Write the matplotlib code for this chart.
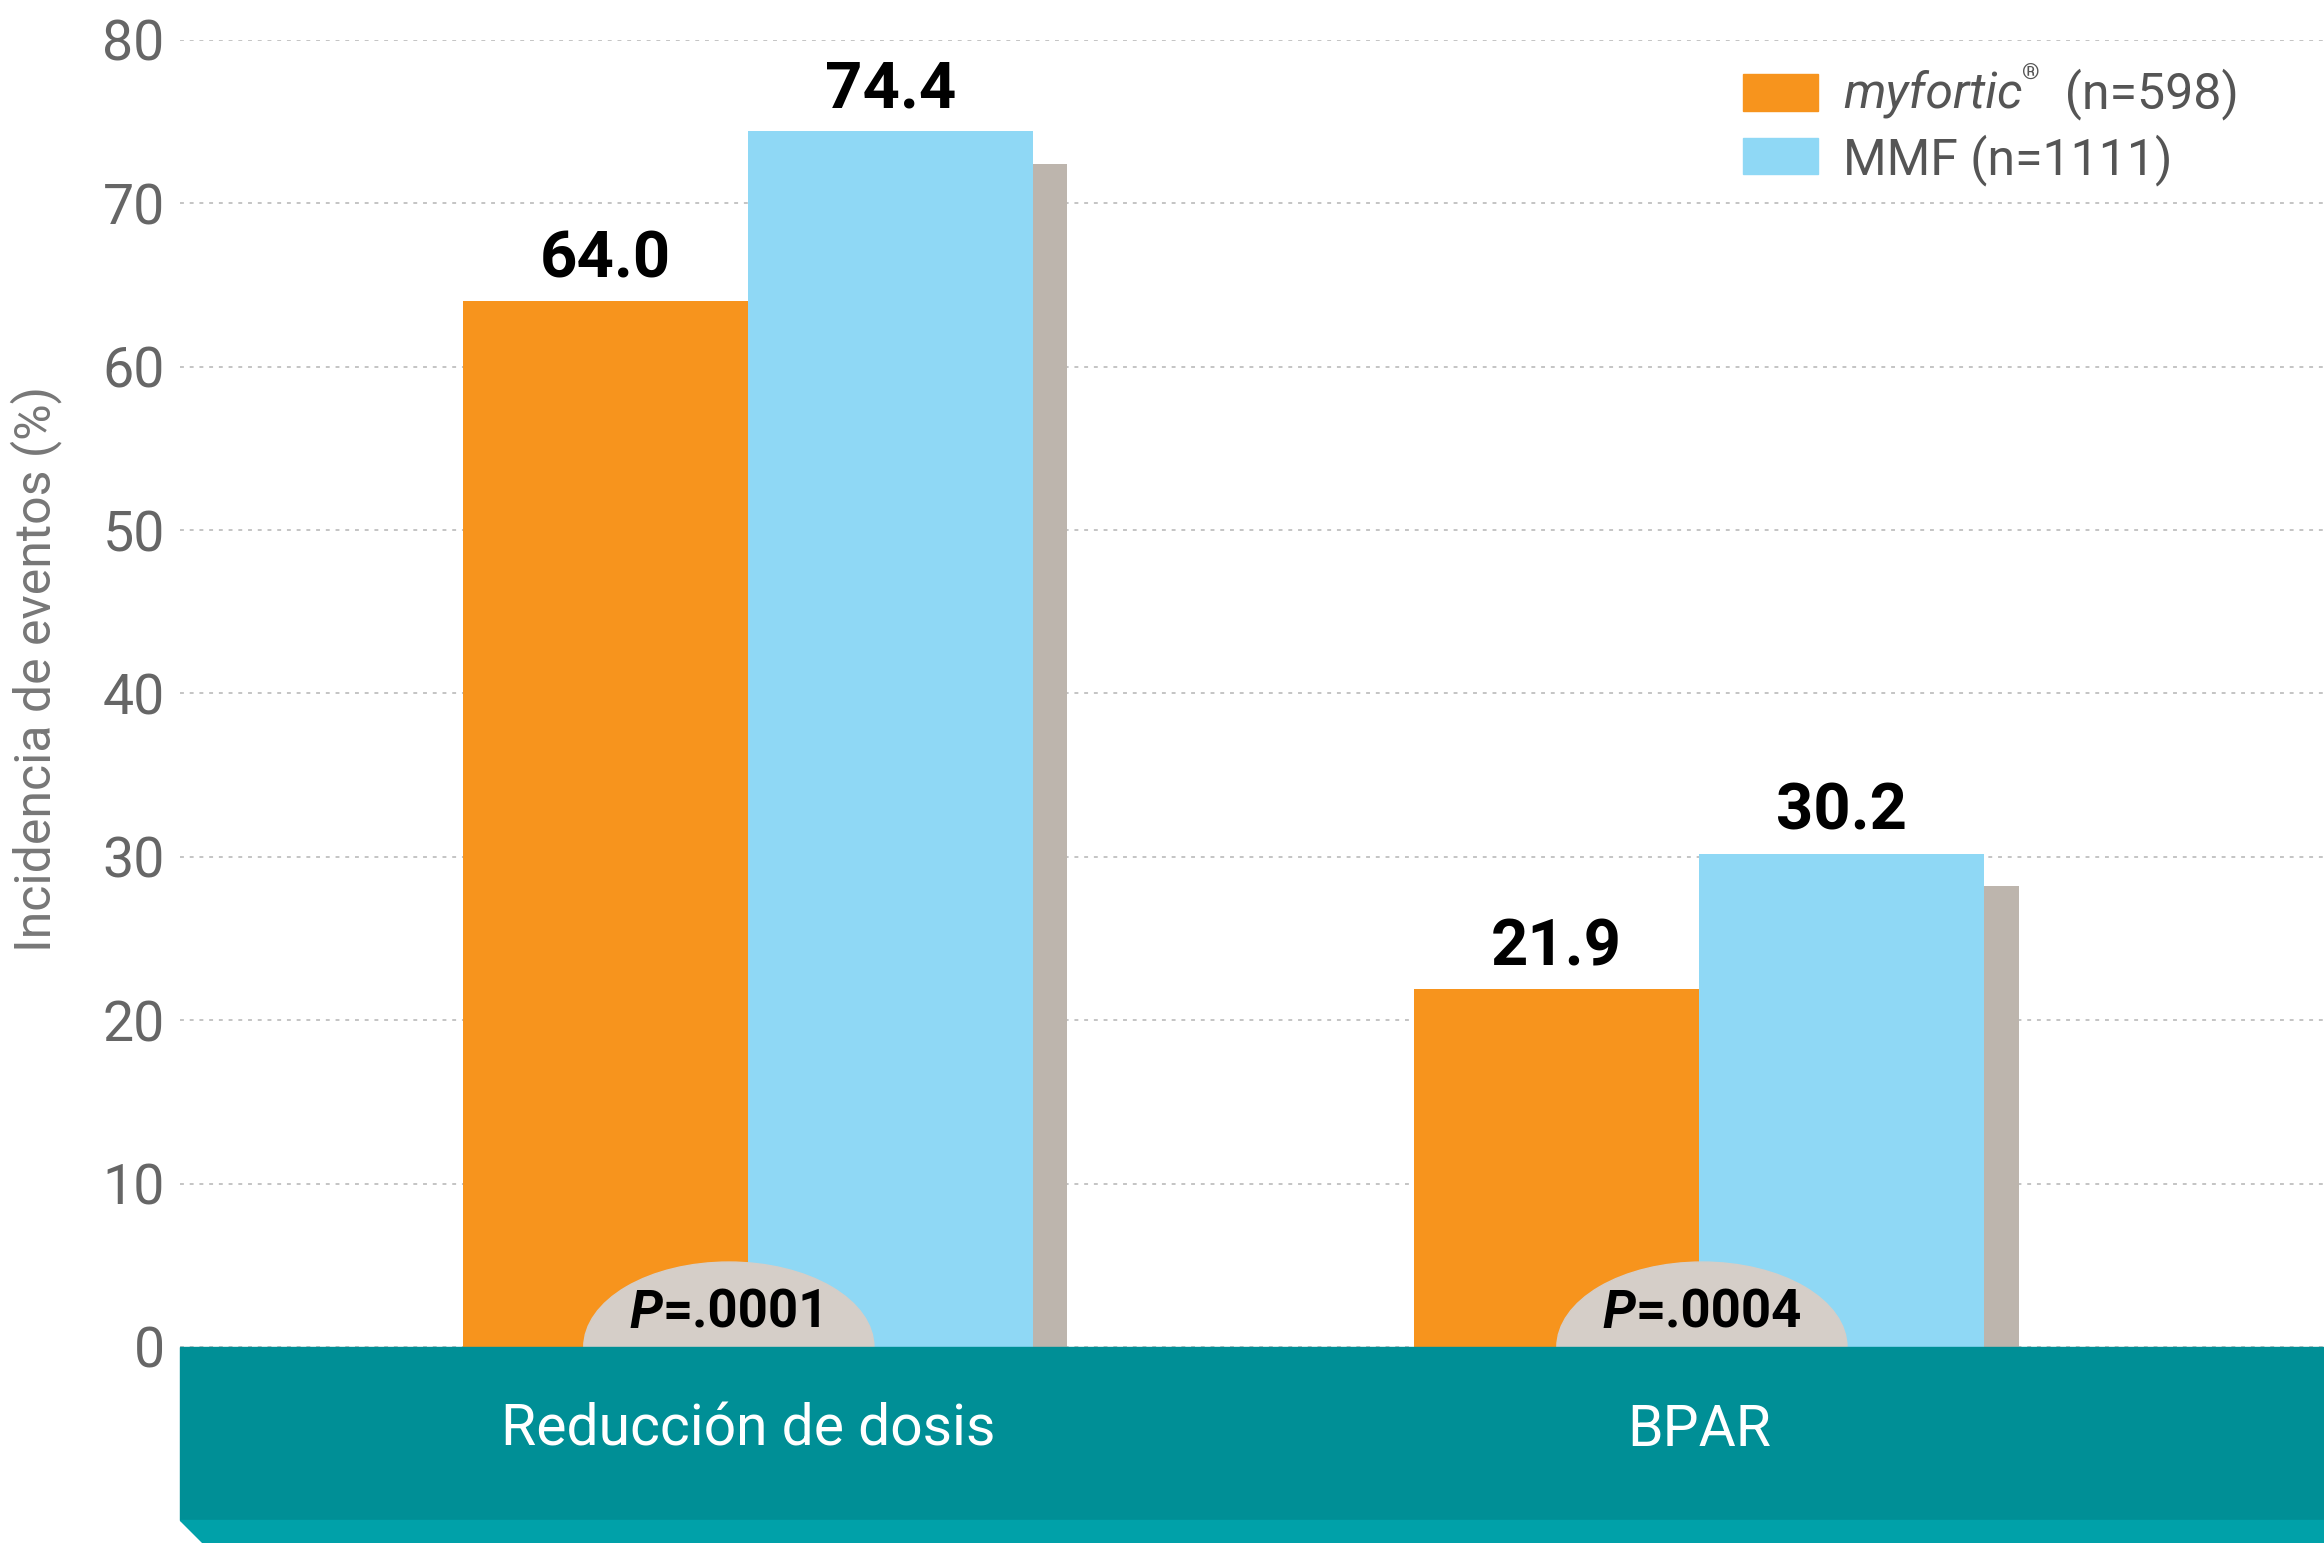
import numpy as np
import matplotlib.pyplot as plt
from matplotlib.patches import Rectangle, Ellipse, Polygon

# Datos
categorias = ['Reducción de dosis', 'BPAR']
myfortic = [64.0, 21.9]
mmf = [74.4, 30.2]
p_valores = ['.0001', '.0004']
yticks = [0, 10, 20, 30, 40, 50, 60, 70, 80]

# Colores
naranja = '#f7941d'
celeste = '#8fd8f5'
sombra = '#bdb5ad'
gris_p = '#d5cec8'
teal = '#008f96'
teal2 = '#00a1a9'

plt.rcParams['font.family'] = ['Roboto', 'DejaVu Sans']

W, H = 2324, 1543
fig = plt.figure(figsize=(W / 100, H / 100), dpi=100)

def fx(px):
    return px / W

def fy(py):
    return 1 - py / H

ax_left, ax_right = 180, W
ax_top, ax_bot = 40, 1347
ax = fig.add_axes([fx(ax_left), fy(ax_bot), fx(ax_right - ax_left), (ax_bot - ax_top) / H])

x = np.arange(len(categorias))
w = 0.3
ax.set_xlim(-0.597, 1.657)
ax.set_ylim(0, 80)

# Barras
ax.bar(x - w / 2, myfortic, width=w, color=naranja, zorder=3)
ax.bar(x + w / 2, mmf, width=w, color=celeste, zorder=3)
# sombra gris a la derecha de la barra MMF
ax.bar(x + w + 0.018, np.array(mmf) - 2, width=0.036, color=sombra, zorder=2)

# Etiquetas de valores
for xi, v in zip(x - w / 2, myfortic):
    ax.annotate(f'{v:.1f}', (xi, v), xytext=(0, 8), textcoords='offset points',
                ha='center', va='bottom', fontsize=47, fontweight='bold', color='black')
for xi, v in zip(x + w / 2, mmf):
    ax.annotate(f'{v:.1f}', (xi, v), xytext=(0, 8), textcoords='offset points',
                ha='center', va='bottom', fontsize=47, fontweight='bold', color='black')

# Elipses con valor P
desplaz = [-0.02, 0.003]
for xi, d in zip(x, desplaz):
    e = Ellipse((xi + d, 0), width=0.305, height=10.4, color=gris_p, zorder=4)
    ax.add_patch(e)

# Ejes
ax.set_yticks(yticks)
ax.set_xticks([])
ax.tick_params(axis='y', length=0, pad=11, labelsize=40, labelcolor='#666666')
for s in ax.spines.values():
    s.set_visible(False)
ax.grid(axis='y', linestyle=(0, (2, 3)), color='#c4c4c4', linewidth=1.4, zorder=0)
ax.set_axisbelow(True)
ax.set_ylabel('Incidencia de eventos (%)', fontsize=36, color='#777777')
ax.yaxis.set_label_coords(-0.055, 0.519)

# Banda inferior
fig.add_artist(Rectangle((fx(180), fy(1520)), fx(W - 180), (1520 - ax_bot) / H,
                         transform=fig.transFigure, color=teal, zorder=5))
fig.add_artist(Polygon([(fx(180), fy(1520)), (fx(W), fy(1520)), (fx(W), fy(H)), (fx(203), fy(H))],
                       closed=True, transform=fig.transFigure, color=teal2, zorder=5))

renderer = fig.canvas.get_renderer()

def texto_piezas(xf, yf, piezas, centrar=False, **comun):
    textos = []
    xx = xf
    for s, kw, dy in piezas:
        props = dict(comun)
        props.update(kw)
        t = fig.text(xx, yf + dy, s, ha='left', **props)
        bb = t.get_window_extent(renderer)
        xx += bb.width / fig.bbox.width
        textos.append(t)
    if centrar:
        total = xx - xf
        for t in textos:
            px, py = t.get_position()
            t.set_position((px - total / 2, py))
    return textos

# Texto P
for xi, d, pv in zip(x, desplaz, p_valores):
    disp = ax.transData.transform((xi + d, 0))
    xf = fig.transFigure.inverted().transform(disp)[0]
    texto_piezas(xf, fy(1313), [('P', dict(fontweight='bold', fontstyle='italic'), 0),
                                ('=' + pv, dict(fontweight='bold'), 0)],
                 centrar=True, va='center', fontsize=38, color='black', zorder=6)

# Categorías en la banda
for xi, c in zip(x, categorias):
    disp = ax.transData.transform((xi, 0))
    xf = fig.transFigure.inverted().transform(disp)[0]
    fig.text(xf, fy(1430), c, ha='center', va='center', fontsize=41, color='white', zorder=6)

# Leyenda manual
fig.add_artist(Rectangle((fx(1743), fy(111)), fx(75), 37 / H, transform=fig.transFigure,
                         color=naranja, zorder=6))
fig.add_artist(Rectangle((fx(1743), fy(174)), fx(75), 36 / H, transform=fig.transFigure,
                         color=celeste, zorder=6))
texto_piezas(fx(1843), fy(94), [('myfortic', dict(fontstyle='italic'), 0),
                                ('®', dict(fontsize=16, fontweight='bold'), 0.013),
                                ('  (n=598)', dict(), 0)],
             va='center', fontsize=36, color='#555555', zorder=6)
fig.text(fx(1843), fy(160), 'MMF (n=1111)', ha='left', va='center', fontsize=36,
         color='#555555', zorder=6)

fig.savefig('out.png', dpi=100, facecolor='white')
